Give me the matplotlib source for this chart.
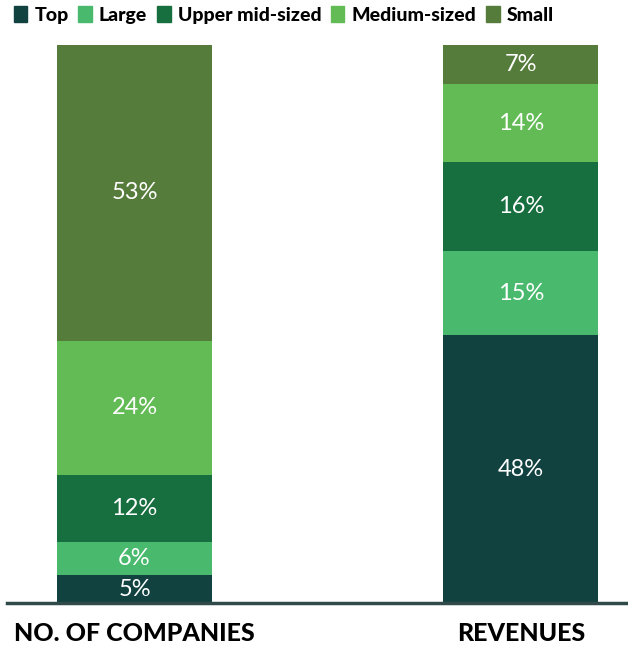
import matplotlib
matplotlib.use("Agg")
import matplotlib.pyplot as plt
from matplotlib.patches import Patch

plt.rcParams['font.family'] = ['Lato', 'DejaVu Sans']

# Доли по сегментам компаний (снизу вверх)
groups = ["NO. OF COMPANIES", "REVENUES"]
segments = ["Top", "Large", "Upper mid-sized", "Medium-sized", "Small"]
companies = [5, 6, 12, 24, 53]
revenues = [48, 15, 16, 14, 7]
colors = ["#124240", "#48b96d", "#176e3f", "#63bb55", "#567c3c"]

fig = plt.figure(figsize=(6.28, 6.49), dpi=100)
ax = fig.add_axes([7 / 628, 46 / 649, 1 - 7 / 628, 558 / 649])

x = [0, 1]
width = 0.401
bottom = [0, 0]
for i, name in enumerate(segments):
    vals = [companies[i], revenues[i]]
    bars = ax.bar(x, vals, width, bottom=bottom, color=colors[i], label=name)
    for xi, v, b in zip(x, vals, bottom):
        ax.text(xi, b + v / 2, f"{v}%", ha="center", va="center",
                color="white", fontsize=17)
    bottom = [b + v for b, v in zip(bottom, vals)]

ax.set_xlim(-0.33, 1.277)
ax.set_ylim(0, 100)
ax.set_yticks([])
ax.set_xticks(x)
ax.set_xticklabels(groups, fontsize=18, fontweight=900)
ax.tick_params(axis="x", length=0, pad=14)
for s in ["top", "right", "left"]:
    ax.spines[s].set_visible(False)
ax.spines["bottom"].set_color("#2f4a48")
ax.spines["bottom"].set_linewidth(2.5)

# Легенда в одну строку над графиком
handles = [Patch(color=c, label=s) for c, s in zip(colors, segments)]
fig.legend(handles=handles, loc="upper left", bbox_to_anchor=(-0.006, 1.018),
           ncol=5, frameon=False, handlelength=0.7, handleheight=0.9,
           handletextpad=0.36, columnspacing=0.5,
           prop={"weight": 900, "size": 14})

fig.savefig("out.png", dpi=100)
